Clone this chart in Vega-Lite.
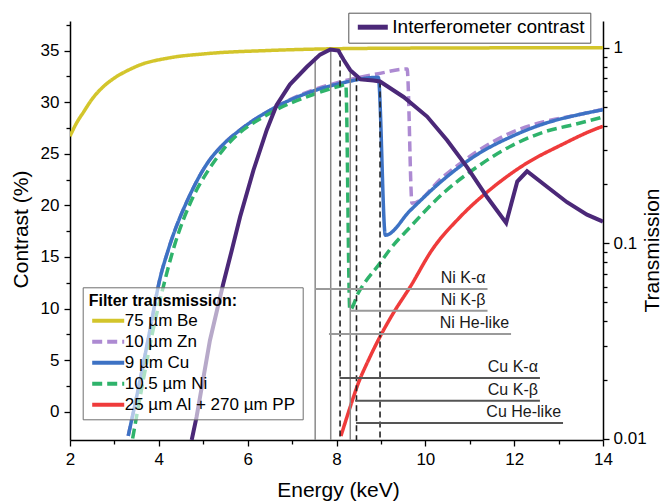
{
  "$schema": "https://vega.github.io/schema/vega-lite/v6.json",
  "width": 533,
  "height": 419,
  "autosize": {"type": "none"},
  "padding": {"left": 70, "top": 21, "right": 62, "bottom": 63},
  "config": {
    "view": {"stroke": null},
    "font": "Liberation Sans",
    "axis": {"labelFont": "Liberation Sans", "titleFont": "Liberation Sans", "labelColor": "black", "titleColor": "black", "domainColor": "black", "tickColor": "black", "grid": false, "titleFontWeight": "normal", "domainWidth": 1.5, "tickWidth": 1.3, "labelFontSize": 17},
    "legend": {"labelFont": "Liberation Sans", "titleFont": "Liberation Sans", "labelColor": "black", "titleColor": "black", "labelLimit": 400}
  },
  "datasets": {
    "filters": [
      {"filter": "75 µm Be", "E": 2.0, "T": 0.353}, {"filter": "75 µm Be", "E": 2.15, "T": 0.413}, {"filter": "75 µm Be", "E": 2.3, "T": 0.467}, {"filter": "75 µm Be", "E": 2.5, "T": 0.547}, {"filter": "75 µm Be", "E": 2.75, "T": 0.632}, {"filter": "75 µm Be", "E": 3.0, "T": 0.7}, {"filter": "75 µm Be", "E": 3.3, "T": 0.765}, {"filter": "75 µm Be", "E": 3.6, "T": 0.82}, {"filter": "75 µm Be", "E": 4.2, "T": 0.884}, {"filter": "75 µm Be", "E": 5.1, "T": 0.933}, {"filter": "75 µm Be", "E": 6.5, "T": 0.968}, {"filter": "75 µm Be", "E": 8.5, "T": 0.991}, {"filter": "75 µm Be", "E": 11.0, "T": 0.997}, {"filter": "75 µm Be", "E": 14.0, "T": 1.0},
      {"filter": "10 µm Zn", "E": 3.31, "T": 0.01035}, {"filter": "10 µm Zn", "E": 3.5, "T": 0.01642}, {"filter": "10 µm Zn", "E": 3.8, "T": 0.03596}, {"filter": "10 µm Zn", "E": 4.02, "T": 0.06522}, {"filter": "10 µm Zn", "E": 4.21, "T": 0.0922}, {"filter": "10 µm Zn", "E": 4.7, "T": 0.1766}, {"filter": "10 µm Zn", "E": 5.08, "T": 0.2542}, {"filter": "10 µm Zn", "E": 5.45, "T": 0.3203}, {"filter": "10 µm Zn", "E": 5.83, "T": 0.3797}, {"filter": "10 µm Zn", "E": 6.58, "T": 0.49}, {"filter": "10 µm Zn", "E": 7.33, "T": 0.5916}, {"filter": "10 µm Zn", "E": 8.08, "T": 0.6682}, {"filter": "10 µm Zn", "E": 8.94, "T": 0.7362}, {"filter": "10 µm Zn", "E": 9.59, "T": 0.7776}, {"filter": "10 µm Zn", "E": 9.7, "T": 0.1602}, {"filter": "10 µm Zn", "E": 10.41, "T": 0.2198}, {"filter": "10 µm Zn", "E": 11.16, "T": 0.2942}, {"filter": "10 µm Zn", "E": 11.91, "T": 0.3661}, {"filter": "10 µm Zn", "E": 12.67, "T": 0.4184}, {"filter": "10 µm Zn", "E": 13.42, "T": 0.4528}, {"filter": "10 µm Zn", "E": 14.0, "T": 0.4842},
      {"filter": "9 µm Cu", "E": 3.31, "T": 0.01035}, {"filter": "9 µm Cu", "E": 3.5, "T": 0.01642}, {"filter": "9 µm Cu", "E": 3.8, "T": 0.03596}, {"filter": "9 µm Cu", "E": 4.02, "T": 0.06522}, {"filter": "9 µm Cu", "E": 4.21, "T": 0.0922}, {"filter": "9 µm Cu", "E": 4.7, "T": 0.1766}, {"filter": "9 µm Cu", "E": 5.08, "T": 0.2542}, {"filter": "9 µm Cu", "E": 5.45, "T": 0.3203}, {"filter": "9 µm Cu", "E": 5.83, "T": 0.3797}, {"filter": "9 µm Cu", "E": 6.58, "T": 0.49}, {"filter": "9 µm Cu", "E": 7.33, "T": 0.5843}, {"filter": "9 µm Cu", "E": 8.08, "T": 0.6561}, {"filter": "9 µm Cu", "E": 8.94, "T": 0.7056}, {"filter": "9 µm Cu", "E": 9.1, "T": 0.11}, {"filter": "9 µm Cu", "E": 9.66, "T": 0.1472}, {"filter": "9 µm Cu", "E": 10.41, "T": 0.2119}, {"filter": "9 µm Cu", "E": 11.16, "T": 0.2836}, {"filter": "9 µm Cu", "E": 11.91, "T": 0.3488}, {"filter": "9 µm Cu", "E": 12.67, "T": 0.4084}, {"filter": "9 µm Cu", "E": 13.42, "T": 0.4528}, {"filter": "9 µm Cu", "E": 14.0, "T": 0.4813},
      {"filter": "10.5 µm Ni", "E": 3.41, "T": 0.01004}, {"filter": "10.5 µm Ni", "E": 3.65, "T": 0.02}, {"filter": "10.5 µm Ni", "E": 3.87, "T": 0.03596}, {"filter": "10.5 µm Ni", "E": 4.1, "T": 0.05991}, {"filter": "10.5 µm Ni", "E": 4.32, "T": 0.0922}, {"filter": "10.5 µm Ni", "E": 4.77, "T": 0.1723}, {"filter": "10.5 µm Ni", "E": 5.1, "T": 0.2335}, {"filter": "10.5 µm Ni", "E": 5.45, "T": 0.3014}, {"filter": "10.5 µm Ni", "E": 6.58, "T": 0.4725}, {"filter": "10.5 µm Ni", "E": 7.33, "T": 0.5602}, {"filter": "10.5 µm Ni", "E": 8.12, "T": 0.6403}, {"filter": "10.5 µm Ni", "E": 8.21, "T": 0.6481}, {"filter": "10.5 µm Ni", "E": 8.3, "T": 0.04557}, {"filter": "10.5 µm Ni", "E": 8.49, "T": 0.05568}, {"filter": "10.5 µm Ni", "E": 8.98, "T": 0.0792}, {"filter": "10.5 µm Ni", "E": 9.2, "T": 0.09278}, {"filter": "10.5 µm Ni", "E": 9.66, "T": 0.1212}, {"filter": "10.5 µm Ni", "E": 10.41, "T": 0.181}, {"filter": "10.5 µm Ni", "E": 11.16, "T": 0.2452}, {"filter": "10.5 µm Ni", "E": 11.91, "T": 0.3127}, {"filter": "10.5 µm Ni", "E": 12.67, "T": 0.3705}, {"filter": "10.5 µm Ni", "E": 13.42, "T": 0.4084}, {"filter": "10.5 µm Ni", "E": 14.0, "T": 0.4419},
      {"filter": "25 µm Al + 270 µm PP", "E": 8.1, "T": 0.01035}, {"filter": "25 µm Al + 270 µm PP", "E": 8.31, "T": 0.0146}, {"filter": "25 µm Al + 270 µm PP", "E": 8.49, "T": 0.01924}, {"filter": "25 µm Al + 270 µm PP", "E": 8.72, "T": 0.02528}, {"filter": "25 µm Al + 270 µm PP", "E": 8.98, "T": 0.03331}, {"filter": "25 µm Al + 270 µm PP", "E": 9.28, "T": 0.04399}, {"filter": "25 µm Al + 270 µm PP", "E": 9.66, "T": 0.05991}, {"filter": "25 µm Al + 270 µm PP", "E": 10.15, "T": 0.09244}, {"filter": "25 µm Al + 270 µm PP", "E": 10.79, "T": 0.1368}, {"filter": "25 µm Al + 270 µm PP", "E": 11.54, "T": 0.1947}, {"filter": "25 µm Al + 270 µm PP", "E": 12.29, "T": 0.2574}, {"filter": "25 µm Al + 270 µm PP", "E": 13.04, "T": 0.3165}, {"filter": "25 µm Al + 270 µm PP", "E": 13.9, "T": 0.389}, {"filter": "25 µm Al + 270 µm PP", "E": 14.0, "T": 0.3962}
    ],
    "contrast": [
      {"series": "Interferometer contrast", "E": 4.74, "C": -2.74}, {"series": "Interferometer contrast", "E": 4.85, "C": -0.5}, {"series": "Interferometer contrast", "E": 5.15, "C": 6.9}, {"series": "Interferometer contrast", "E": 5.45, "C": 12.4}, {"series": "Interferometer contrast", "E": 5.64, "C": 15.6}, {"series": "Interferometer contrast", "E": 5.83, "C": 18.9}, {"series": "Interferometer contrast", "E": 6.13, "C": 23.4}, {"series": "Interferometer contrast", "E": 6.43, "C": 27.3}, {"series": "Interferometer contrast", "E": 6.65, "C": 29.7}, {"series": "Interferometer contrast", "E": 6.95, "C": 31.7}, {"series": "Interferometer contrast", "E": 7.33, "C": 33.4}, {"series": "Interferometer contrast", "E": 7.63, "C": 34.6}, {"series": "Interferometer contrast", "E": 7.86, "C": 35.1}, {"series": "Interferometer contrast", "E": 8.04, "C": 35.0}, {"series": "Interferometer contrast", "E": 8.16, "C": 34.1}, {"series": "Interferometer contrast", "E": 8.31, "C": 33.1}, {"series": "Interferometer contrast", "E": 8.49, "C": 32.4}, {"series": "Interferometer contrast", "E": 8.54, "C": 32.2}, {"series": "Interferometer contrast", "E": 8.83, "C": 32.1}, {"series": "Interferometer contrast", "E": 8.98, "C": 32.0}, {"series": "Interferometer contrast", "E": 9.51, "C": 30.5}, {"series": "Interferometer contrast", "E": 10.04, "C": 28.6}, {"series": "Interferometer contrast", "E": 10.49, "C": 26.3}, {"series": "Interferometer contrast", "E": 10.94, "C": 23.7}, {"series": "Interferometer contrast", "E": 11.39, "C": 20.8}, {"series": "Interferometer contrast", "E": 11.82, "C": 18.3}, {"series": "Interferometer contrast", "E": 12.07, "C": 22.3}, {"series": "Interferometer contrast", "E": 12.29, "C": 23.3}, {"series": "Interferometer contrast", "E": 12.74, "C": 21.8}, {"series": "Interferometer contrast", "E": 13.19, "C": 20.3}, {"series": "Interferometer contrast", "E": 13.64, "C": 19.1}, {"series": "Interferometer contrast", "E": 13.96, "C": 18.5}, {"series": "Interferometer contrast", "E": 14.0, "C": 18.4}
    ],
    "verticals": [
      {"kind": "Ni", "E": 7.52, "C": 34.4}, {"kind": "Ni", "E": 7.87, "C": 35.1}, {"kind": "Ni", "E": 8.31, "C": 33.0},
      {"kind": "Cu", "E": 8.08, "C": 35.0}, {"kind": "Cu", "E": 8.45, "C": 32.6}, {"kind": "Cu", "E": 8.98, "C": 32.0}
    ],
    "emission": [
      {"kind": "Ni", "E": 7.52, "E2": 11.4, "C": 11.89, "label": "Ni K-α"},
      {"kind": "Ni", "E": 8.31, "E2": 11.4, "C": 9.79, "label": "Ni K-β"},
      {"kind": "Ni", "E": 7.83, "E2": 11.93, "C": 7.53, "label": "Ni He-like"},
      {"kind": "Cu", "E": 8.07, "E2": 12.58, "C": 3.27, "label": "Cu K-α"},
      {"kind": "Cu", "E": 8.42, "E2": 12.58, "C": 1.07, "label": "Cu K-β"},
      {"kind": "Cu", "E": 8.44, "E2": 13.1, "C": -1.1, "label": "Cu He-like"}
    ]
  },
  "encoding": {
    "x": {
      "field": "E", "type": "quantitative",
      "scale": {"domain": [2, 14], "nice": false, "zero": false},
      "axis": {
        "title": "Energy (keV)", "titleFontSize": 21, "titleX": 268, "titleY": 50, "titleAlign": "center", "titleBaseline": "middle",
        "values": [2, 3, 4, 5, 6, 7, 8, 9, 10, 11, 12, 13, 14],
        "labelExpr": "datum.value % 2 == 0 ? datum.label : ''",
        "tickSize": {"condition": {"test": "datum.value % 2 == 0", "value": 6}, "value": 4},
        "labelPadding": 5, "labelFlush": false, "labelOverlap": false
      }
    }
  },
  "layer": [
    {
      "data": {"name": "filters"},
      "mark": {"type": "line", "strokeWidth": 3.5, "interpolate": "monotone", "clip": true},
      "encoding": {
        "y": {
          "field": "T", "type": "quantitative",
          "scale": {"type": "log", "domain": [0.00987, 1.369], "nice": false},
          "axis": {
            "orient": "right", "title": "Transmission", "titleFontSize": 21, "titleAngle": -90, "titleX": 49, "titleY": 229, "titleAlign": "center", "titleBaseline": "middle",
            "values": [0.01, 0.02, 0.03, 0.04, 0.05, 0.06, 0.07, 0.08, 0.09, 0.1, 0.2, 0.3, 0.4, 0.5, 0.6, 0.7, 0.8, 0.9, 1],
            "labelExpr": "datum.value == 1 ? '1' : datum.value == 0.1 ? '0.1' : datum.value == 0.01 ? '0.01' : ''",
            "tickSize": {"condition": {"test": "datum.value == 1 || datum.value == 0.1 || datum.value == 0.01", "value": 6}, "value": 4},
            "labelPadding": 4, "labelFlush": false, "labelOverlap": false
          }
        },
        "color": {
          "field": "filter", "type": "nominal",
          "scale": {"domain": ["75 µm Be", "10 µm Zn", "9 µm Cu", "10.5 µm Ni", "25 µm Al + 270 µm PP"], "range": ["#d3c52b", "#ad8ad2", "#3d72c4", "#2fb36b", "#ef3b3b"]},
          "legend": {"title": "Filter transmission:", "orient": "none", "legendX": 12.7, "legendY": 266.3, "symbolType": "M-3.2,0H3.2", "symbolStrokeWidth": 4, "symbolSize": 100, "symbolOffset": 11, "labelFontSize": 17, "labelLimit": 400, "titleFontSize": 16, "titleFontWeight": "bold", "padding": 6, "strokeColor": "#6e6e6e", "fillColor": "rgba(255,255,255,0.6)", "labelOffset": 8, "titlePadding": 3, "rowPadding": 3}
        },
        "strokeDash": {
          "field": "filter", "type": "nominal",
          "scale": {"domain": ["75 µm Be", "10 µm Zn", "9 µm Cu", "10.5 µm Ni", "25 µm Al + 270 µm PP"], "range": [[1, 0], [10, 5], [1, 0], [10, 5], [1, 0]]},
          "legend": {"title": "Filter transmission:", "orient": "none", "legendX": 12.7, "legendY": 266.3, "symbolType": "M-3.2,0H3.2", "symbolStrokeWidth": 4, "symbolSize": 100, "symbolOffset": 11, "labelFontSize": 17, "labelLimit": 400, "titleFontSize": 16, "titleFontWeight": "bold", "padding": 6, "strokeColor": "#6e6e6e", "fillColor": "rgba(255,255,255,0.6)", "labelOffset": 8, "titlePadding": 3, "rowPadding": 3}
        }
      }
    },
    {
      "encoding": {
        "y": {
          "field": "C", "type": "quantitative",
          "scale": {"domain": [-2.74, 37.86], "nice": false, "zero": false},
          "axis": {
            "orient": "left", "title": "Contrast (%)", "titleFontSize": 21, "titleAngle": -90, "titleX": -49, "titleY": 208, "titleAlign": "center", "titleBaseline": "middle",
            "values": [0, 2.5, 5, 7.5, 10, 12.5, 15, 17.5, 20, 22.5, 25, 27.5, 30, 32.5, 35, 37.5],
            "labelExpr": "datum.value % 5 == 0 ? datum.label : ''",
            "tickSize": {"condition": {"test": "datum.value % 5 == 0", "value": 6}, "value": 4},
            "labelPadding": 5, "labelFlush": false, "labelOverlap": false
          }
        }
      },
      "layer": [
        {
          "data": {"name": "verticals"},
          "transform": [{"filter": "datum.kind == 'Ni'"}],
          "mark": {"type": "rule", "color": "#8a8a8a", "strokeWidth": 1.5},
          "encoding": {"y2": {"datum": -2.74}}
        },
        {
          "data": {"name": "verticals"},
          "transform": [{"filter": "datum.kind == 'Cu'"}],
          "mark": {"type": "rule", "color": "#222222", "strokeWidth": 1.6, "strokeDash": [6, 4]},
          "encoding": {"y2": {"datum": -2.74}}
        },
        {
          "data": {"name": "emission"},
          "transform": [{"filter": "datum.kind == 'Ni'"}],
          "mark": {"type": "rule", "color": "#9a9a9a", "strokeWidth": 2},
          "encoding": {"x2": {"field": "E2"}}
        },
        {
          "data": {"name": "emission"},
          "transform": [{"filter": "datum.kind == 'Cu'"}],
          "mark": {"type": "rule", "color": "#555555", "strokeWidth": 2},
          "encoding": {"x2": {"field": "E2"}}
        },
        {
          "data": {"name": "emission"},
          "mark": {"type": "text", "align": "right", "baseline": "bottom", "dx": -2, "dy": -3, "fontSize": 16, "font": "Liberation Sans", "color": "#1a1a1a"},
          "encoding": {"x": {"field": "E2", "type": "quantitative"}, "text": {"field": "label"}}
        },
        {
          "data": {"name": "contrast"},
          "mark": {"type": "line", "strokeWidth": 4, "clip": true},
          "encoding": {
            "color": {
              "field": "series", "type": "nominal",
              "scale": {"range": ["#4b2878"]},
              "legend": {"title": null, "orient": "none", "legendX": 278.3, "legendY": -8.3, "symbolType": "M-3,0H3", "symbolStrokeWidth": 5, "symbolSize": 100, "symbolOffset": 10, "labelFontSize": 19, "labelLimit": 400, "padding": 5, "strokeColor": "#555555", "fillColor": "white", "labelOffset": 10}
            }
          }
        }
      ]
    }
  ],
  "resolve": {"scale": {"y": "independent", "color": "independent", "strokeDash": "independent"}}
}
